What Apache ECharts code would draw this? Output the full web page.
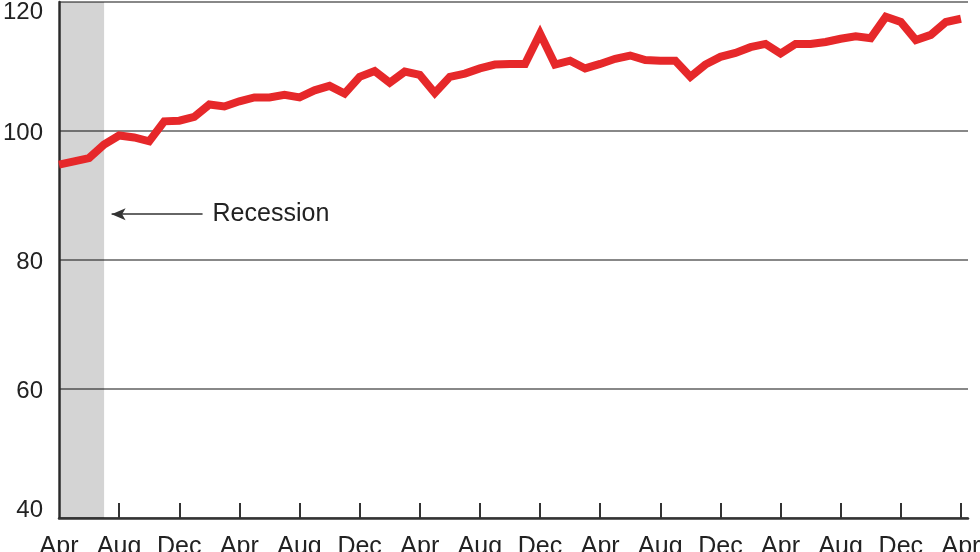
<!DOCTYPE html>
<html>
<head>
<meta charset="utf-8">
<script src="https://cdn.jsdelivr.net/npm/echarts@6/dist/echarts.min.js"></script>
<style>
  html, body { margin: 0; padding: 0; background: #fff; }
  #chart-panel { width: 980px; height: 552px; }
</style>
</head>
<body>
<div id="chart-panel"></div>
<script>
// monthly, Apr to Apr (five years)
const monthNames = ["Apr", "May", "Jun", "Jul", "Aug", "Sep", "Oct", "Nov", "Dec", "Jan", "Feb", "Mar"]
const months = []
for (let i = 0; i <= 60; i++) months.push(monthNames[i % 12])

const values = [
  94.8, 95.3, 95.8, 97.9, 99.3, 99.0, 98.4, 101.5, 101.6, 102.2,
  104.1, 103.8, 104.6, 105.2, 105.2, 105.6, 105.2, 106.3, 107.0, 105.8,
  108.4, 109.3, 107.5, 109.2, 108.7, 105.9, 108.4, 108.9, 109.7, 110.3,
  110.4, 110.4, 115.1, 110.3, 110.9, 109.7, 110.4, 111.2, 111.7, 111.0,
  110.9, 110.9, 108.4, 110.3, 111.5, 112.1, 113.0, 113.5, 112.0, 113.5,
  113.5, 113.8, 114.3, 114.7, 114.4, 117.7, 116.9, 114.1, 114.9, 116.9,
  117.4
]
const yTicks = [40, 60, 80, 100, 120]
const xTickIdx = [0, 4, 8, 12, 16, 20, 24, 28, 32, 36, 40, 44, 48, 52, 56, 60]
const recession = [0, 3]
const recessionLabel = "Recession"

const font = "Liberation Sans"
const chart = echarts.init(document.getElementById("chart-panel"), null, { renderer: "canvas" })

const yMin = yTicks[0]
const yMax = yTicks[yTicks.length - 1]

const options = {
  backgroundColor: "#fff",
  animation: false,
  grid: { left: 59, right: 12, top: 2, bottom: 34, containLabel: false, outerBoundsMode: "none" },
  xAxis: {
    type: "value",
    min: 0,
    max: 60.47,
    axisLine: { show: true, lineStyle: { color: "#333", width: 2.5 } },
    axisTick: {
      show: true,
      inside: true,
      length: 15,
      customValues: xTickIdx.slice(1),
      lineStyle: { color: "#333", width: 2 }
    },
    axisLabel: {
      customValues: xTickIdx,
      formatter: (v) => months[Math.round(v)],
      margin: 17,
      fontFamily: font,
      fontSize: 25,
      color: "#222"
    },
    splitLine: { show: false }
  },
  yAxis: {
    type: "value",
    min: yMin,
    max: yMax,
    interval: 20,
    axisLine: { show: true, lineStyle: { color: "#333", width: 2.5 } },
    axisTick: { show: false },
    axisLabel: {
      margin: 16,
      fontFamily: font,
      fontSize: 24,
      color: "#222",
      formatter: (v) => {
        if (v === yMax) return "{top|" + v + "}"
        if (v === yMin) return "{bot|" + v + "}"
        return "{mid|" + v + "}"
      },
      rich: {
        top: { fontFamily: font, fontSize: 24, color: "#222", padding: [20, 0, 0, 0] },
        bot: { fontFamily: font, fontSize: 24, color: "#222", padding: [0, 0, 16, 0] },
        mid: { fontFamily: font, fontSize: 24, color: "#222", padding: [4, 0, 0, 0] }
      }
    },
    splitLine: { show: true, lineStyle: { color: "#888", width: 2 } }
  },
  series: [
    {
      type: "line",
      data: values.map((v, i) => [i, v]),
      showSymbol: false,
      z: 5,
      lineStyle: { color: "#e6282a", width: 8, join: "miter" },
      markArea: {
        silent: true,
        itemStyle: { color: "rgba(0,0,0,0.17)" },
        data: [[{ xAxis: recession[0] }, { xAxis: recession[1] }]]
      },
      markLine: {
        silent: true,
        symbol: ["arrow", "none"],
        symbolSize: [9, 14],
        lineStyle: { color: "#333", width: 1.5, type: "solid" },
        label: {
          show: true,
          position: "end",
          formatter: recessionLabel,
          distance: 10,
          fontFamily: font,
          fontSize: 25,
          color: "#222"
        },
        data: [[{ coord: [3.5, 87.1] }, { coord: [9.55, 87.1] }]]
      }
    }
  ]
}
chart.setOption(options)
</script>
</body>
</html>
